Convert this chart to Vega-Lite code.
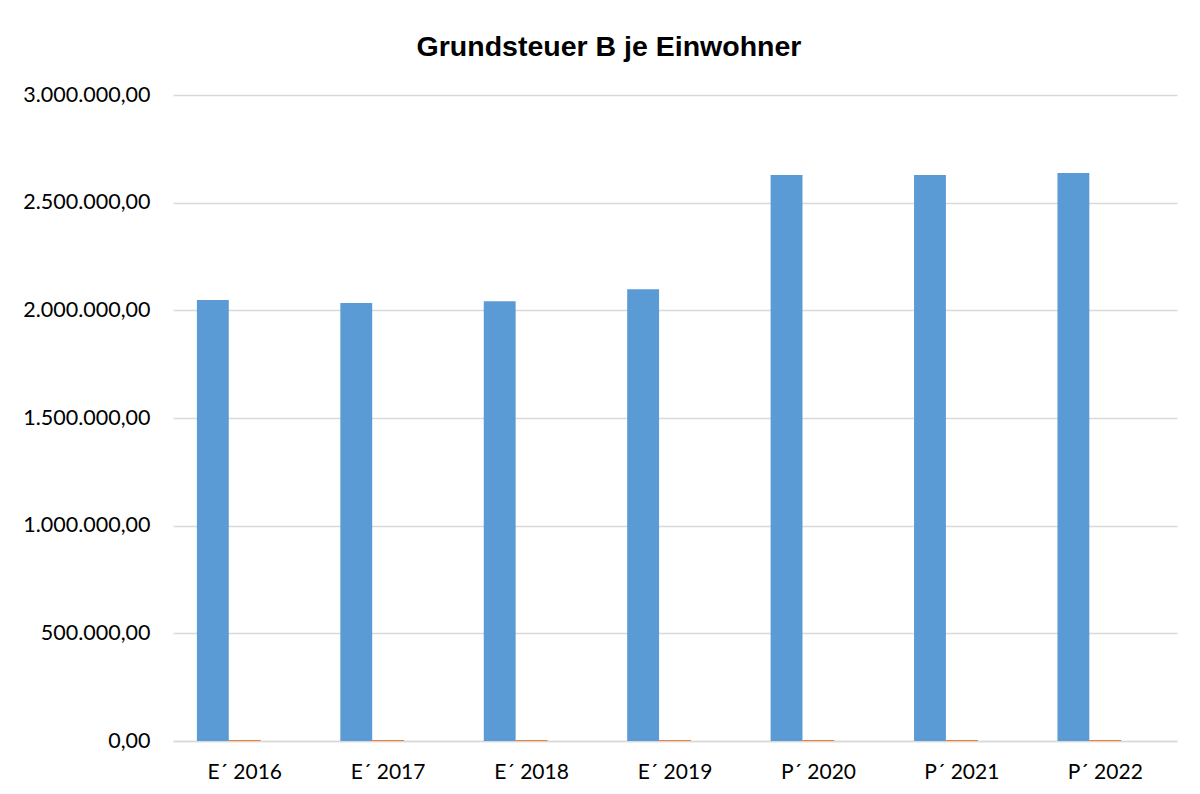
{
  "$schema": "https://vega.github.io/schema/vega-lite/v6.json",
  "width": 1004,
  "height": 646,
  "autosize": {"type": "none"},
  "padding": {"left": 173, "top": 95, "right": 23, "bottom": 53},
  "background": "white",
  "config": {
    "locale": {"number": {"decimal": ",", "thousands": ".", "grouping": [3], "currency": ["", " €"]}},
    "view": {"stroke": null},
    "font": "Lato"
  },
  "title": {
    "text": "Grundsteuer B je Einwohner",
    "font": "Liberation Sans",
    "fontSize": 28.5,
    "fontWeight": "bold",
    "color": "#000000",
    "anchor": "middle",
    "dx": -66,
    "offset": 23
  },
  "data": {
    "values": [
      {"Jahr": "E´ 2016", "Reihe": "Grundsteuer B", "Wert": 2048000},
      {"Jahr": "E´ 2017", "Reihe": "Grundsteuer B", "Wert": 2034000},
      {"Jahr": "E´ 2018", "Reihe": "Grundsteuer B", "Wert": 2042000},
      {"Jahr": "E´ 2019", "Reihe": "Grundsteuer B", "Wert": 2098000},
      {"Jahr": "P´ 2020", "Reihe": "Grundsteuer B", "Wert": 2628000},
      {"Jahr": "P´ 2021", "Reihe": "Grundsteuer B", "Wert": 2628000},
      {"Jahr": "P´ 2022", "Reihe": "Grundsteuer B", "Wert": 2638000},
      {"Jahr": "E´ 2016", "Reihe": "Einwohner", "Wert": 4500},
      {"Jahr": "E´ 2017", "Reihe": "Einwohner", "Wert": 4500},
      {"Jahr": "E´ 2018", "Reihe": "Einwohner", "Wert": 4500},
      {"Jahr": "E´ 2019", "Reihe": "Einwohner", "Wert": 4500},
      {"Jahr": "P´ 2020", "Reihe": "Einwohner", "Wert": 4500},
      {"Jahr": "P´ 2021", "Reihe": "Einwohner", "Wert": 4500},
      {"Jahr": "P´ 2022", "Reihe": "Einwohner", "Wert": 4500}
    ]
  },
  "mark": {"type": "bar"},
  "encoding": {
    "x": {
      "field": "Jahr",
      "type": "nominal",
      "sort": null,
      "scale": {"paddingInner": 0.3333, "paddingOuter": 0.1667},
      "axis": {
        "title": null,
        "labelAngle": 0,
        "labelFont": "Lato",
        "labelFontSize": 21,
        "labelColor": "#000000",
        "ticks": false,
        "domainColor": "#d9d9d9",
        "domainWidth": 1.5,
        "labelPadding": 20
      }
    },
    "xOffset": {
      "field": "Reihe",
      "type": "nominal",
      "scale": {"domain": ["Grundsteuer B", "Einwohner", "je Einwohner"], "paddingInner": 0, "paddingOuter": 0}
    },
    "y": {
      "field": "Wert",
      "type": "quantitative",
      "scale": {"domain": [0, 3000000]},
      "axis": {
        "title": null,
        "values": [0, 500000, 1000000, 1500000, 2000000, 2500000, 3000000],
        "format": ",.2f",
        "domain": false,
        "ticks": false,
        "gridColor": "#d9d9d9",
        "gridWidth": 1.5,
        "labelPadding": 23,
        "labelFont": "Lato",
        "labelFontSize": 21.5,
        "labelColor": "#000000"
      }
    },
    "color": {
      "field": "Reihe",
      "type": "nominal",
      "scale": {"domain": ["Grundsteuer B", "Einwohner", "je Einwohner"], "range": ["#5B9BD5", "#ED7D31", "#A5A5A5"]},
      "legend": null
    }
  }
}
